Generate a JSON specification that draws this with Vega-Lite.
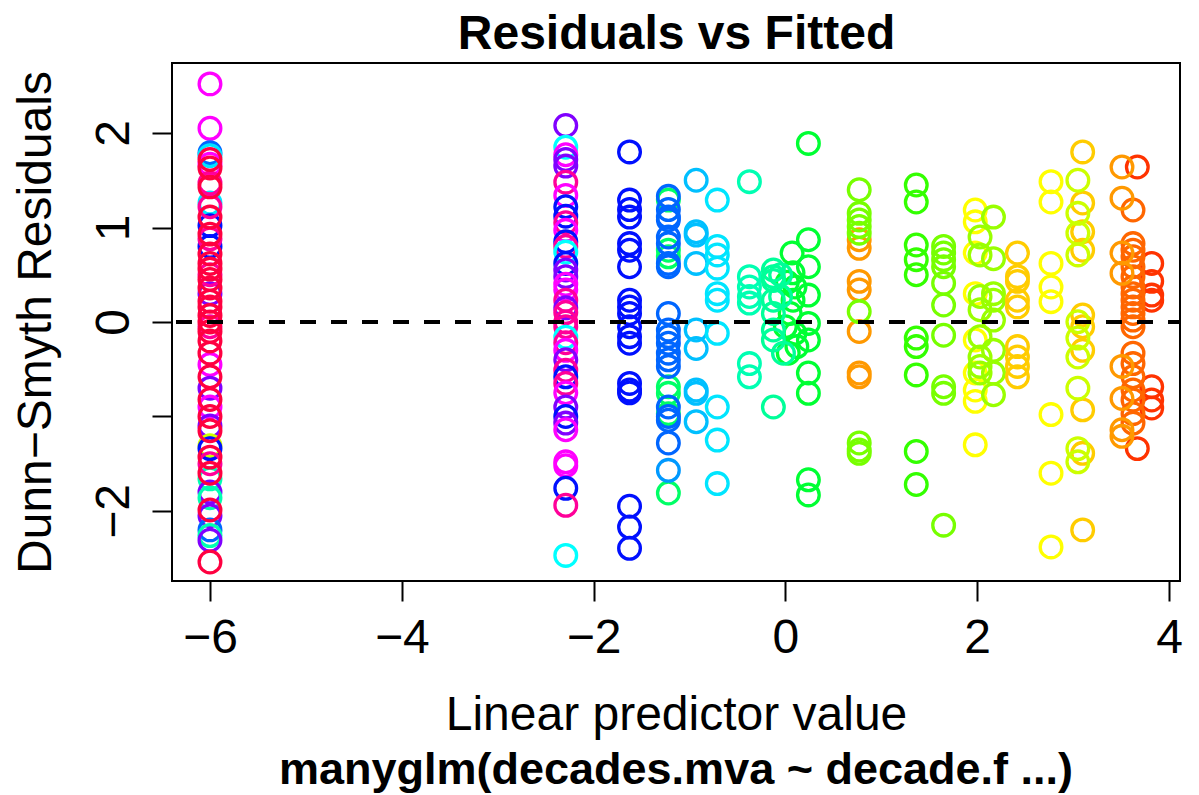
{
  "$schema": "https://vega.github.io/schema/vega-lite/v6.json",
  "width": 1008,
  "height": 518,
  "autosize": {"type": "none"},
  "padding": {"left": 172, "top": 63, "right": 19, "bottom": 214},
  "background": "white",
  "title": {"text": "manyglm(decades.mva ~ decade.f ...)", "orient": "bottom", "anchor": "middle", "baseline": "alphabetic", "offset": 45, "fontSize": 45, "font": "Liberation Sans", "fontWeight": "bold", "color": "black"},
  "config": {
    "view": {"stroke": "black", "strokeWidth": 2},
    "axis": {"grid": false, "domain": false, "tickColor": "black", "tickWidth": 2, "tickSize": 20, "labelFont": "Liberation Sans", "labelFontSize": 48, "labelColor": "black", "titleFont": "Liberation Sans", "titleFontSize": 48, "titleFontWeight": "normal", "titleColor": "black", "labelFlush": false, "labelOverlap": false}
  },
  "data": {"values": [
    {"x": -6, "y": 2.52, "g": "mg"}, {"x": -6, "y": 2.05, "g": "mg"}, {"x": -6, "y": 1.79, "g": "az"}, {"x": -6, "y": 1.76, "g": "cy"}, {"x": -6, "y": 1.67, "g": "mg"}, {"x": -6, "y": 1.26, "g": "cy"}, {"x": -6, "y": 1.02, "g": "bl"}, {"x": -6, "y": 0.8, "g": "bl"}, {"x": -6, "y": 0.3, "g": "vi"}, {"x": -6, "y": -0.45, "g": "mg"}, {"x": -6, "y": -0.7, "g": "vi"}, {"x": -6, "y": -0.9, "g": "mg"}, {"x": -6, "y": -1.1, "g": "vi"}, {"x": -6, "y": -1.31, "g": "ly"}, {"x": -6, "y": -1.34, "g": "bl"}, {"x": -6, "y": -1.66, "g": "aq"}, {"x": -6, "y": -1.8, "g": "vi"}, {"x": -6, "y": -1.86, "g": "aq"}, {"x": -6, "y": -2.05, "g": "vi"}, {"x": -6, "y": -2.2, "g": "az"}, {"x": -6, "y": -2.26, "g": "aq"}, {"x": -6, "y": -2.31, "g": "vi"},
    {"x": -6, "y": 1.47, "g": "pk"}, {"x": -6, "y": 1.22, "g": "pk"}, {"x": -6, "y": 0.88, "g": "pk"}, {"x": -6, "y": 0.5, "g": "pk"}, {"x": -6, "y": -0.05, "g": "pk"}, {"x": -6, "y": -1.5, "g": "pk"},
    {"x": -6, "y": 1.72, "g": "r"}, {"x": -6, "y": 1.63, "g": "r"}, {"x": -6, "y": 1.43, "g": "r"}, {"x": -6, "y": 1.11, "g": "r"}, {"x": -6, "y": 0.93, "g": "r"}, {"x": -6, "y": 0.72, "g": "r"}, {"x": -6, "y": 0.62, "g": "r"}, {"x": -6, "y": 0.56, "g": "r"}, {"x": -6, "y": 0.45, "g": "r"}, {"x": -6, "y": 0.36, "g": "r"}, {"x": -6, "y": 0.22, "g": "r"}, {"x": -6, "y": 0.16, "g": "r"}, {"x": -6, "y": 0.07, "g": "r"}, {"x": -6, "y": 0.0, "g": "r"}, {"x": -6, "y": -0.1, "g": "r"}, {"x": -6, "y": -0.2, "g": "r"}, {"x": -6, "y": -0.33, "g": "r"}, {"x": -6, "y": -0.58, "g": "r"}, {"x": -6, "y": -0.82, "g": "r"}, {"x": -6, "y": -1.0, "g": "r"}, {"x": -6, "y": -1.15, "g": "r"}, {"x": -6, "y": -1.43, "g": "r"}, {"x": -6, "y": -1.6, "g": "r"}, {"x": -6, "y": -1.99, "g": "r"}, {"x": -6, "y": -2.54, "g": "r"},
    {"x": -2.29, "y": 2.08, "g": "vi"}, {"x": -2.29, "y": 1.85, "g": "cn"}, {"x": -2.29, "y": 1.77, "g": "mg"}, {"x": -2.29, "y": 1.72, "g": "vi"}, {"x": -2.29, "y": 1.65, "g": "vi"}, {"x": -2.29, "y": 1.48, "g": "pk"}, {"x": -2.29, "y": 1.34, "g": "mg"}, {"x": -2.29, "y": 1.22, "g": "bl"}, {"x": -2.29, "y": 1.12, "g": "bl"}, {"x": -2.29, "y": 1.05, "g": "pk"}, {"x": -2.29, "y": 0.97, "g": "mg"}, {"x": -2.29, "y": 0.85, "g": "bl"}, {"x": -2.29, "y": 0.8, "g": "pk"}, {"x": -2.29, "y": 0.74, "g": "cn"}, {"x": -2.29, "y": 0.62, "g": "bl"}, {"x": -2.29, "y": 0.55, "g": "vi"}, {"x": -2.29, "y": 0.48, "g": "vi"}, {"x": -2.29, "y": 0.4, "g": "mg"}, {"x": -2.29, "y": 0.34, "g": "mg"}, {"x": -2.29, "y": 0.23, "g": "pk"}, {"x": -2.29, "y": 0.15, "g": "vi"}, {"x": -2.29, "y": 0.1, "g": "pk"}, {"x": -2.29, "y": 0.0, "g": "pk"}, {"x": -2.29, "y": -0.05, "g": "pk"}, {"x": -2.29, "y": -0.16, "g": "cn"}, {"x": -2.29, "y": -0.22, "g": "pk"}, {"x": -2.29, "y": -0.3, "g": "mg"}, {"x": -2.29, "y": -0.4, "g": "vi"}, {"x": -2.29, "y": -0.51, "g": "pk"}, {"x": -2.29, "y": -0.58, "g": "bl"}, {"x": -2.29, "y": -0.65, "g": "pk"}, {"x": -2.29, "y": -0.75, "g": "mg"}, {"x": -2.29, "y": -0.9, "g": "vi"}, {"x": -2.29, "y": -1.0, "g": "bl"}, {"x": -2.29, "y": -1.07, "g": "vi"}, {"x": -2.29, "y": -1.14, "g": "mg"}, {"x": -2.29, "y": -1.48, "g": "mg"}, {"x": -2.29, "y": -1.52, "g": "mg"}, {"x": -2.29, "y": -1.76, "g": "bl"}, {"x": -2.29, "y": -1.94, "g": "pk"}, {"x": -2.29, "y": -2.47, "g": "cn"},
    {"x": -1.625, "y": 1.8, "g": "bl"}, {"x": -1.625, "y": 1.29, "g": "bl"}, {"x": -1.625, "y": 1.19, "g": "bl"}, {"x": -1.625, "y": 1.11, "g": "bl"}, {"x": -1.625, "y": 0.83, "g": "bl"}, {"x": -1.625, "y": 0.76, "g": "bl"}, {"x": -1.625, "y": 0.585, "g": "bl"}, {"x": -1.625, "y": 0.23, "g": "bl"}, {"x": -1.625, "y": 0.16, "g": "bl"}, {"x": -1.625, "y": 0.09, "g": "bl"}, {"x": -1.625, "y": -0.05, "g": "bl"}, {"x": -1.625, "y": -0.155, "g": "bl"}, {"x": -1.625, "y": -0.225, "g": "bl"}, {"x": -1.625, "y": -0.65, "g": "bl"}, {"x": -1.625, "y": -0.72, "g": "bl"}, {"x": -1.625, "y": -0.75, "g": "bl"}, {"x": -1.625, "y": -1.95, "g": "bl"}, {"x": -1.625, "y": -2.17, "g": "bl"}, {"x": -1.625, "y": -2.395, "g": "bl"},
    {"x": -1.22, "y": 1.29, "g": "gm"}, {"x": -1.22, "y": 0.76, "g": "gm"}, {"x": -1.22, "y": 0.69, "g": "gm"}, {"x": -1.22, "y": -0.685, "g": "gm"}, {"x": -1.22, "y": -0.755, "g": "gm"}, {"x": -1.22, "y": -0.97, "g": "gm"}, {"x": -1.22, "y": -1.81, "g": "gm"},
    {"x": -1.22, "y": 1.33, "g": "az"}, {"x": -1.22, "y": 1.19, "g": "az"}, {"x": -1.22, "y": 1.11, "g": "az"}, {"x": -1.22, "y": 1.08, "g": "az"}, {"x": -1.22, "y": 0.9, "g": "az"}, {"x": -1.22, "y": 0.83, "g": "az"}, {"x": -1.22, "y": 0.62, "g": "az"}, {"x": -1.22, "y": 0.585, "g": "az"}, {"x": -1.22, "y": 0.09, "g": "az"}, {"x": -1.22, "y": -0.085, "g": "az"}, {"x": -1.22, "y": -0.155, "g": "az"}, {"x": -1.22, "y": -0.225, "g": "az"}, {"x": -1.22, "y": -0.33, "g": "az"}, {"x": -1.22, "y": -0.4, "g": "az"}, {"x": -1.22, "y": -0.47, "g": "az"}, {"x": -1.22, "y": -0.9, "g": "az"}, {"x": -1.22, "y": -1.0, "g": "az"}, {"x": -1.22, "y": -1.04, "g": "az"}, {"x": -1.22, "y": -1.28, "g": "az"}, {"x": -1.22, "y": -1.57, "g": "sb"},
    {"x": -0.93, "y": 1.5, "g": "sk"}, {"x": -0.93, "y": 0.955, "g": "sk"}, {"x": -0.93, "y": 0.92, "g": "sk"}, {"x": -0.93, "y": 0.62, "g": "sk"}, {"x": -0.93, "y": -0.085, "g": "sk"}, {"x": -0.93, "y": -0.28, "g": "sk"}, {"x": -0.93, "y": -0.72, "g": "sk"}, {"x": -0.93, "y": -0.755, "g": "sk"}, {"x": -0.93, "y": -1.055, "g": "sk"},
    {"x": -0.71, "y": 1.29, "g": "cy"}, {"x": -0.71, "y": 0.8, "g": "cy"}, {"x": -0.71, "y": 0.71, "g": "cy"}, {"x": -0.71, "y": 0.57, "g": "cy"}, {"x": -0.71, "y": 0.3, "g": "cy"}, {"x": -0.71, "y": 0.23, "g": "cy"}, {"x": -0.71, "y": -0.12, "g": "cy"}, {"x": -0.71, "y": -0.9, "g": "cy"}, {"x": -0.71, "y": -1.25, "g": "cy"}, {"x": -0.71, "y": -1.71, "g": "cy"},
    {"x": -0.375, "y": 1.485, "g": "aq"}, {"x": -0.375, "y": 0.48, "g": "aq"}, {"x": -0.375, "y": 0.37, "g": "aq"}, {"x": -0.375, "y": 0.27, "g": "aq"}, {"x": -0.375, "y": 0.2, "g": "aq"}, {"x": -0.375, "y": -0.44, "g": "aq"}, {"x": -0.375, "y": -0.58, "g": "aq"},
    {"x": 0.07, "y": 0.73, "g": "g"}, {"x": 0.08, "y": 0.52, "g": "g"}, {"x": 0.1, "y": 0.37, "g": "g"}, {"x": 0.08, "y": 0.23, "g": "g"}, {"x": 0.05, "y": 0.09, "g": "g"}, {"x": 0.1, "y": -0.12, "g": "g"}, {"x": 0.12, "y": -0.26, "g": "g"}, {"x": 0.03, "y": -0.33, "g": "g"}, {"x": 0.0, "y": -0.05, "g": "g"}, {"x": 0.02, "y": 0.42, "g": "g"},
    {"x": -0.125, "y": 0.55, "g": "sg"}, {"x": -0.125, "y": 0.44, "g": "sg"}, {"x": -0.125, "y": 0.23, "g": "sg"}, {"x": -0.125, "y": -0.085, "g": "sg"}, {"x": -0.125, "y": -0.9, "g": "sg"}, {"x": -0.125, "y": 0.48, "g": "sg"}, {"x": -0.05, "y": 0.27, "g": "sg"}, {"x": -0.125, "y": 0.09, "g": "sg"}, {"x": -0.125, "y": -0.19, "g": "sg"}, {"x": -0.02, "y": -0.33, "g": "sg"}, {"x": -0.05, "y": 0.5, "g": "sg"},
    {"x": 0.24, "y": 1.89, "g": "g"}, {"x": 0.24, "y": 0.87, "g": "g"}, {"x": 0.24, "y": 0.585, "g": "g"}, {"x": 0.24, "y": 0.285, "g": "g"}, {"x": 0.24, "y": -0.015, "g": "g"}, {"x": 0.24, "y": -0.19, "g": "g"}, {"x": 0.24, "y": -0.54, "g": "g"}, {"x": 0.24, "y": -0.755, "g": "g"}, {"x": 0.24, "y": -1.67, "g": "g"}, {"x": 0.24, "y": -1.83, "g": "g"},
    {"x": 0.77, "y": 0.87, "g": "o"}, {"x": 0.77, "y": 0.78, "g": "o"}, {"x": 0.77, "y": 0.43, "g": "o"}, {"x": 0.77, "y": 0.34, "g": "o"}, {"x": 0.77, "y": -0.1, "g": "o"}, {"x": 0.77, "y": -0.54, "g": "o"}, {"x": 0.77, "y": -0.58, "g": "o"},
    {"x": 0.77, "y": 1.4, "g": "yg"}, {"x": 0.77, "y": 1.15, "g": "yg"}, {"x": 0.77, "y": 1.08, "g": "yg"}, {"x": 0.77, "y": 1.01, "g": "yg"}, {"x": 0.77, "y": 0.94, "g": "yg"}, {"x": 0.77, "y": 0.11, "g": "yg"}, {"x": 0.77, "y": -1.28, "g": "yg"}, {"x": 0.77, "y": -1.355, "g": "yg"}, {"x": 0.77, "y": -1.39, "g": "yg"},
    {"x": 1.365, "y": 1.45, "g": "g2"}, {"x": 1.365, "y": 1.27, "g": "g2"}, {"x": 1.365, "y": 0.815, "g": "g2"}, {"x": 1.365, "y": 0.66, "g": "g2"}, {"x": 1.365, "y": 0.5, "g": "g2"}, {"x": 1.365, "y": -0.17, "g": "g2"}, {"x": 1.365, "y": -0.26, "g": "g2"}, {"x": 1.365, "y": -0.56, "g": "g2"}, {"x": 1.365, "y": -1.37, "g": "g2"}, {"x": 1.365, "y": -1.72, "g": "g2"},
    {"x": 1.65, "y": 0.8, "g": "yg"}, {"x": 1.65, "y": 0.73, "g": "yg"}, {"x": 1.65, "y": 0.66, "g": "yg"}, {"x": 1.65, "y": 0.585, "g": "yg"}, {"x": 1.65, "y": 0.41, "g": "yg"}, {"x": 1.65, "y": 0.18, "g": "yg"}, {"x": 1.65, "y": -0.14, "g": "yg"}, {"x": 1.65, "y": -0.685, "g": "yg"}, {"x": 1.65, "y": -0.755, "g": "yg"}, {"x": 1.65, "y": -2.15, "g": "yg"},
    {"x": 1.98, "y": 1.185, "g": "y"}, {"x": 1.98, "y": 1.06, "g": "y"}, {"x": 1.98, "y": 0.73, "g": "y"}, {"x": 1.98, "y": 0.3, "g": "y"}, {"x": 1.98, "y": -0.19, "g": "y"}, {"x": 1.98, "y": -0.54, "g": "y"}, {"x": 1.98, "y": -0.72, "g": "y"}, {"x": 1.98, "y": -0.84, "g": "y"}, {"x": 1.98, "y": -1.3, "g": "y"},
    {"x": 2.03, "y": 0.9, "g": "yg2"}, {"x": 2.03, "y": 0.71, "g": "yg2"}, {"x": 2.03, "y": 0.27, "g": "yg2"}, {"x": 2.03, "y": 0.13, "g": "yg2"}, {"x": 2.03, "y": -0.155, "g": "yg2"}, {"x": 2.03, "y": -0.37, "g": "yg2"}, {"x": 2.03, "y": -0.47, "g": "yg2"}, {"x": 2.03, "y": -0.54, "g": "yg2"},
    {"x": 2.17, "y": 1.11, "g": "yg2"}, {"x": 2.17, "y": 0.67, "g": "yg2"}, {"x": 2.17, "y": 0.3, "g": "yg2"}, {"x": 2.17, "y": 0.23, "g": "yg2"}, {"x": 2.17, "y": 0.02, "g": "yg2"}, {"x": 2.17, "y": -0.3, "g": "yg2"}, {"x": 2.17, "y": -0.54, "g": "yg2"}, {"x": 2.17, "y": -0.77, "g": "yg2"},
    {"x": 2.42, "y": 0.73, "g": "go"}, {"x": 2.42, "y": 0.48, "g": "go"}, {"x": 2.42, "y": 0.43, "g": "go"}, {"x": 2.42, "y": 0.23, "g": "go"}, {"x": 2.42, "y": 0.16, "g": "go"}, {"x": 2.42, "y": -0.26, "g": "go"}, {"x": 2.42, "y": -0.37, "g": "go"}, {"x": 2.42, "y": -0.47, "g": "go"}, {"x": 2.42, "y": -0.58, "g": "go"},
    {"x": 2.77, "y": 1.485, "g": "y"}, {"x": 2.77, "y": 1.27, "g": "y"}, {"x": 2.77, "y": 0.62, "g": "y"}, {"x": 2.77, "y": 0.37, "g": "y"}, {"x": 2.77, "y": 0.215, "g": "y"}, {"x": 2.77, "y": -0.98, "g": "y"}, {"x": 2.77, "y": -1.6, "g": "y"}, {"x": 2.77, "y": -2.38, "g": "y"},
    {"x": 3.1, "y": 1.8, "g": "go"}, {"x": 3.1, "y": 1.26, "g": "go"}, {"x": 3.1, "y": 0.955, "g": "go"}, {"x": 3.1, "y": 0.76, "g": "go"}, {"x": 3.1, "y": 0.074, "g": "go"}, {"x": 3.1, "y": -0.05, "g": "go"}, {"x": 3.1, "y": -0.3, "g": "go"}, {"x": 3.1, "y": -0.93, "g": "go"}, {"x": 3.1, "y": -1.39, "g": "go"}, {"x": 3.1, "y": -2.2, "g": "go"},
    {"x": 3.05, "y": 1.5, "g": "ly"}, {"x": 3.05, "y": 1.15, "g": "ly"}, {"x": 3.05, "y": 0.94, "g": "ly"}, {"x": 3.05, "y": 0.71, "g": "ly"}, {"x": 3.05, "y": 0.003, "g": "ly"}, {"x": 3.05, "y": -0.17, "g": "ly"}, {"x": 3.05, "y": -0.37, "g": "ly"}, {"x": 3.05, "y": -0.7, "g": "ly"}, {"x": 3.05, "y": -1.34, "g": "ly"}, {"x": 3.05, "y": -1.48, "g": "ly"},
    {"x": 3.67, "y": 1.64, "g": "ro"}, {"x": 3.67, "y": -1.34, "g": "ro"},
    {"x": 3.82, "y": 0.62, "g": "ro"}, {"x": 3.82, "y": 0.43, "g": "ro"}, {"x": 3.82, "y": 0.285, "g": "ro"}, {"x": 3.82, "y": 0.23, "g": "ro"}, {"x": 3.82, "y": -0.685, "g": "ro"}, {"x": 3.82, "y": -0.825, "g": "ro"}, {"x": 3.82, "y": -0.91, "g": "ro"},
    {"x": 3.625, "y": 1.185, "g": "o2"}, {"x": 3.625, "y": 0.83, "g": "o2"}, {"x": 3.625, "y": 0.76, "g": "o2"}, {"x": 3.625, "y": 0.69, "g": "o2"}, {"x": 3.625, "y": 0.585, "g": "o2"}, {"x": 3.625, "y": 0.48, "g": "o2"}, {"x": 3.625, "y": 0.37, "g": "o2"}, {"x": 3.625, "y": 0.3, "g": "o2"}, {"x": 3.625, "y": 0.23, "g": "o2"}, {"x": 3.625, "y": 0.16, "g": "o2"}, {"x": 3.625, "y": 0.09, "g": "o2"}, {"x": 3.625, "y": 0.02, "g": "o2"}, {"x": 3.625, "y": -0.05, "g": "o2"}, {"x": 3.625, "y": -0.33, "g": "o2"}, {"x": 3.625, "y": -0.44, "g": "o2"}, {"x": 3.625, "y": -0.58, "g": "o2"}, {"x": 3.625, "y": -0.72, "g": "o2"}, {"x": 3.625, "y": -0.825, "g": "o2"}, {"x": 3.625, "y": -0.97, "g": "o2"}, {"x": 3.625, "y": -1.07, "g": "o2"},
    {"x": 3.51, "y": 1.64, "g": "o"}, {"x": 3.51, "y": 1.31, "g": "o"}, {"x": 3.51, "y": 0.73, "g": "o"}, {"x": 3.51, "y": 0.515, "g": "o"}, {"x": 3.51, "y": -0.47, "g": "o"}, {"x": 3.51, "y": -0.81, "g": "o"}, {"x": 3.51, "y": -1.14, "g": "o"}, {"x": 3.51, "y": -1.21, "g": "o"}
  ]},
  "resolve": {"axis": {"x": "independent"}},
  "layer": [
    {
      "transform": [{"filter": "datum.x < -1"}],
      "mark": {"type": "point", "shape": "circle", "filled": false, "size": 470, "strokeWidth": 3.3, "opacity": 1},
      "encoding": {
        "x": {"field": "x", "type": "quantitative", "scale": {"domain": [-6.396, 4.115], "nice": false, "zero": false},
          "axis": {"orient": "bottom", "values": [-6, -4, -2, 0, 2, 4], "format": "d", "labelPadding": 51, "labelBaseline": "alphabetic", "title": "Linear predictor value", "titleY": 148, "titleBaseline": "alphabetic"}},
        "y": {"field": "y", "type": "quantitative", "scale": {"domain": [-2.741, 2.741], "nice": false, "zero": false},
          "axis": {"values": [-2, -1, 0, 1, 2], "format": "d", "labelAngle": -90, "labelAlign": "center", "labelBaseline": "alphabetic", "labelPadding": 24, "labelExpr": "datum.value == -1 ? '' : datum.label", "title": "Dunn−Smyth Residuals", "titleAngle": -90, "titleBaseline": "alphabetic", "titleAlign": "center", "titleX": -122, "titleY": 259}},
        "color": {"field": "g", "type": "nominal", "legend": null,
          "scale": {"domain": ["r", "pk", "mg", "vi", "bl", "az", "sb", "sk", "cy", "cn", "aq", "sg", "gm", "g", "g2", "yg", "yg2", "ly", "y", "go", "o", "o2", "ro"],
                    "range": ["#FF0040", "#FF0099", "#FF00FF", "#8000FF", "#0010FF", "#0066FF", "#0099FF", "#00BFFF", "#00E5FF", "#00FFFF", "#00FFB2", "#00FF99", "#00FF66", "#00FF33", "#33FF00", "#77FF00", "#99FF00", "#CCFF00", "#FFFF00", "#FFCC00", "#FF9900", "#FF6600", "#FF3300"]}}
      }
    },
    {
      "transform": [{"filter": "datum.x >= -1"}],
      "mark": {"type": "point", "shape": "circle", "filled": false, "size": 470, "strokeWidth": 3.3, "opacity": 1},
      "encoding": {
        "x": {"field": "x", "type": "quantitative", "scale": {"domain": [-6.396, 4.115], "nice": false, "zero": false},
          "axis": {"orient": "top", "ticks": false, "labels": false, "domain": false, "title": "Residuals vs Fitted", "titleFontSize": 48, "titleFontWeight": "bold", "titleBaseline": "alphabetic", "titleY": -15}},
        "y": {"field": "y", "type": "quantitative"},
        "color": {"field": "g", "type": "nominal", "legend": null}
      }
    },
    {
      "mark": {"type": "rule", "color": "black", "strokeWidth": 3, "strokeDash": [15, 16], "strokeDashOffset": 3.6},
      "encoding": {"y": {"datum": 0}}
    }
  ]
}
